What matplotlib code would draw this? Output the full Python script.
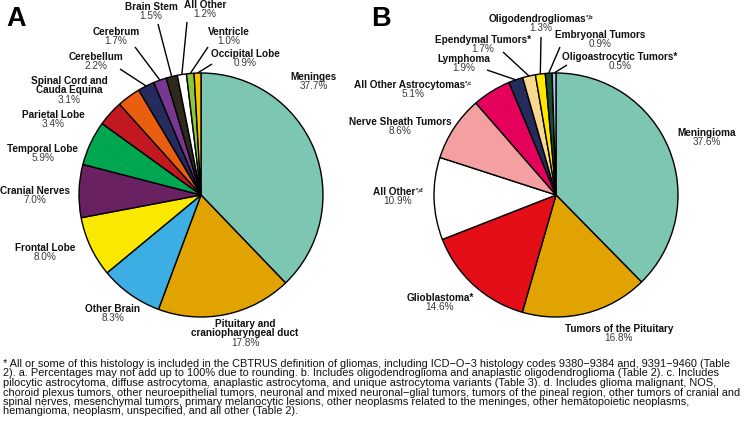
import matplotlib
matplotlib.use("Agg")
import matplotlib.pyplot as plt
from matplotlib import font_manager
import numpy as np

W, H = 748, 426

# ---------------- data ----------------
a_labels = ["Meninges", "Pituitary and\ncraniopharyngeal duct", "Other Brain", "Frontal Lobe",
            "Cranial Nerves", "Temporal Lobe", "Parietal Lobe", "Spinal Cord and\nCauda Equina",
            "Cerebellum", "Cerebrum", "Brain Stem", "All Other", "Ventricle", "Occipital Lobe"]
a_values = [37.7, 17.8, 8.3, 8.0, 7.0, 5.9, 3.4, 3.1, 2.2, 1.7, 1.5, 1.2, 1.0, 0.9]
a_colors = ["#7DC6B1", "#E0A300", "#3DAEE3", "#FAE800", "#6A2162", "#00A650", "#C1191F",
            "#EA5F0F", "#262B5E", "#7A3791", "#2D291D", "#FFFFFF", "#8DC63F", "#F7C300"]

b_labels = ["Meningioma", "Tumors of the Pituitary", "Glioblastoma*", "All Other",
            "Nerve Sheath Tumors", "All Other Astrocytomas", "Lymphoma",
            "Ependymal Tumors*", "Oligodendrogliomas", "Embryonal Tumors",
            "Oligoastrocytic Tumors*"]
b_sups = ["", "", "", "*,d", "", "*,c", "", "", "*,b", "", ""]
b_values = [37.6, 16.8, 14.6, 10.9, 8.6, 5.1, 1.9, 1.7, 1.3, 0.9, 0.5]
b_colors = ["#7DC6B1", "#E0A300", "#E30E18", "#FFFFFF", "#F4A0A2", "#E5005B", "#262B5E",
            "#FAD98F", "#FFE600", "#1E4B2B", "#A9CDE9"]

footnote = [
    "* All or some of this histology is included in the CBTRUS definition of gliomas, including ICD\u2212O\u22123 histology codes 9380\u22129384 and, 9391\u22129460 (Table",
    "2). a. Percentages may not add up to 100% due to rounding. b. Includes oligodendroglioma and anaplastic oligodendroglioma (Table 2). c. Includes",
    "pilocytic astrocytoma, diffuse astrocytoma, anaplastic astrocytoma, and unique astrocytoma variants (Table 3). d. Includes glioma malignant, NOS,",
    "choroid plexus tumors, other neuroepithelial tumors, neuronal and mixed neuronal\u2212glial tumors, tumors of the pineal region, other tumors of cranial and",
    "spinal nerves, mesenchymal tumors, primary melanocytic lesions, other neoplasms related to the meninges, other hematopoietic neoplasms,",
    "hemangioma, neoplasm, unspecified, and all other (Table 2).",
]

# ---------------- layout (pixel coords, y from top) ----------------
a_pos = [(314, 77, None), (245, 324, None), (113, 309, None), (45, 248, None),
         (35, 191, None), (43, 149, None), (53, 115, None), (69, 81, None),
         (96, 57, (120, 69)), (116, 32, (135, 47)), (151, 7, (158, 24)),
         (205, 5, (187, 22)), (229, 32, (208, 47)), (245, 54, (212, 64))]
b_pos = [(707, 133, None), (619, 329, None), (440, 298, None), (398, 192, None),
         (400, 122, None), (413, 85, None), (464, 59, (487, 70)),
         (483, 40, (503, 52)), (541, 19, (541, 37)), (600, 35, (560, 47)),
         (620, 57, (567, 65))]

A_CENTER, A_R = (201, 195), 122
B_CENTER, B_R = (556, 195), 122

avail = {f.name for f in font_manager.fontManager.ttflist}
BASE = "Liberation Sans" if "Liberation Sans" in avail else "DejaVu Sans"
NOTE = "Liberation Sans Narrow" if "Liberation Sans Narrow" in avail else BASE
plt.rcParams["font.family"] = [BASE, "DejaVu Sans"]

fig = plt.figure(figsize=(W / 100, H / 100), dpi=100)
ax = fig.add_axes([0, 0, 1, 1])
ax.set_xlim(0, W)
ax.set_ylim(0, H)
ax.axis("off")
renderer = fig.canvas.get_renderer()


def Y(y):
    return H - y


FS = 7.2
LS = 9.3


def label(tx, ty, text, sup=""):
    if not sup:
        ax.text(tx, Y(ty), text, ha="center", va="center", fontsize=FS,
                fontweight="bold", color="#111111")
        return
    t = ax.text(0, Y(ty), text, ha="left", va="center", fontsize=FS,
                fontweight="bold", color="#111111")
    s = ax.text(0, Y(ty - 2.5), sup, ha="left", va="center", fontsize=FS * 0.6,
                fontweight="bold", color="#111111")
    w1 = t.get_window_extent(renderer).width
    w2 = s.get_window_extent(renderer).width
    x0 = tx - (w1 + w2) / 2
    t.set_x(x0)
    s.set_x(x0 + w1 + 0.3)


def draw_pie(values, colors, labels, sups, pos, center, r):
    wedges, _ = ax.pie(values, colors=colors, startangle=90, counterclock=False,
                       center=(center[0], Y(center[1])), radius=r,
                       wedgeprops=dict(edgecolor="black", linewidth=1.0),
                       normalize=True)
    ax.set_xlim(0, W)
    ax.set_ylim(0, H)
    ax.set_aspect("auto")
    for w, lab, sup, val, (tx, ty, lead) in zip(wedges, labels, sups, values, pos):
        lines = lab.split("\n")
        for i, ln in enumerate(lines):
            label(tx, ty + LS * i, ln, sup if i == len(lines) - 1 else "")
        ax.text(tx, Y(ty + LS * len(lines)), f"{val:.1f}%", ha="center", va="center",
                fontsize=FS, color="#3a3a3a")
        if lead is not None:
            ang = np.deg2rad((w.theta1 + w.theta2) / 2)
            ex = center[0] + r * np.cos(ang)
            ey = Y(center[1]) + r * np.sin(ang)
            ax.plot([lead[0], ex], [Y(lead[1]), ey], color="black", lw=1.0,
                    solid_capstyle="butt")


draw_pie(a_values, a_colors, a_labels, [""] * len(a_labels), a_pos, A_CENTER, A_R)
draw_pie(b_values, b_colors, b_labels, b_sups, b_pos, B_CENTER, B_R)

ax.text(6, Y(19.5), "A", fontsize=19.5, fontweight="bold", ha="left", va="center")
ax.text(371, Y(19.5), "B", fontsize=19.5, fontweight="bold", ha="left", va="center")

# footnote, fitted so the widest line spans the figure width
ys = [364, 373.5, 383, 392.5, 402, 411.5]
fs_note = 6.8
texts = []
for line, yy in zip(footnote, ys):
    texts.append(ax.text(3, Y(yy), line, fontsize=fs_note, family=NOTE, va="center",
                         ha="left", color="#111111"))
maxw = max(t.get_window_extent(renderer).width for t in texts)
new_fs = fs_note * (742 / maxw)
for t in texts:
    t.set_fontsize(new_fs)

fig.savefig("out.png", dpi=100)
